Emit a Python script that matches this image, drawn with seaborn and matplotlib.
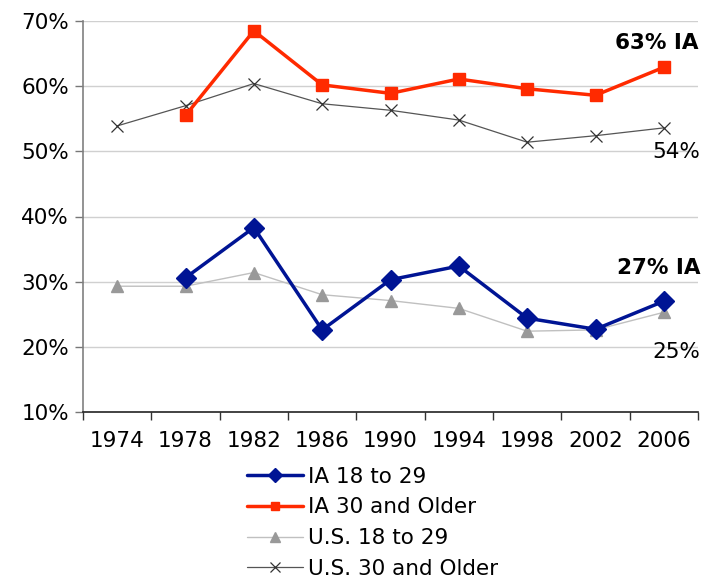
import numpy as np
import pandas as pd
import matplotlib
matplotlib.use("Agg")
import matplotlib.pyplot as plt
import seaborn as sns

years = ["1974", "1978", "1982", "1986", "1990", "1994", "1998", "2002", "2006"]
ia_18_29 = [np.nan, 30.6, 38.3, 22.6, 30.3, 32.4, 24.4, 22.7, 27.0]
ia_30_older = [np.nan, 55.5, 68.5, 60.2, 58.9, 61.1, 59.6, 58.6, 62.9]
us_18_29 = [29.3, 29.3, 31.4, 28.0, 27.1, 25.9, 22.4, 22.6, 25.3]
us_30_older = [53.9, 57.0, 60.4, 57.3, 56.3, 54.8, 51.4, 52.4, 53.6]
series_names = ["IA 18 to 29", "IA 30 and Older", "U.S. 18 to 29", "U.S. 30 and Older"]
yticks = [10, 20, 30, 40, 50, 60, 70]

sns.set_theme(style="white")
plt.rcParams['font.family'] = ['DejaVu Sans']
plt.rcParams['text.color'] = 'black'
plt.rcParams['xtick.color'] = 'black'
plt.rcParams['ytick.color'] = 'black'

pos = np.arange(len(years))
frames = []
for name, vals in zip(series_names, [ia_18_29, ia_30_older, us_18_29, us_30_older]):
    frames.append(pd.DataFrame({"pos": pos, "value": vals, "series": name}))
df = pd.concat(frames, ignore_index=True)

fig = plt.figure(figsize=(7.15, 5.78), dpi=100)
ax = fig.add_axes([83/715, 1 - 412/578, (698 - 83)/715, (412 - 21)/578])

for y in yticks[1:]:
    ax.axhline(y, color="#d0d0d0", lw=1.0, zorder=0)

styles = {
    "U.S. 30 and Older": dict(color="#555555", lw=0.9, marker="x", ms=9, mec="#333333", mfc="#333333", mew=0.9),
    "U.S. 18 to 29": dict(color="#c0c0c0", lw=1.0, marker="^", ms=9, mec="#999999", mfc="#999999"),
    "IA 30 and Older": dict(color="#ff2a00", lw=2.5, marker="s", ms=8, mec="#ff2a00", mfc="#ff2a00"),
    "IA 18 to 29": dict(color="#001494", lw=2.5, marker="D", ms=10, mec="#001494", mfc="#001494"),
}
handles = {}
for name in ["U.S. 30 and Older", "U.S. 18 to 29", "IA 30 and Older", "IA 18 to 29"]:
    st = styles[name]
    sub = df[df["series"] == name].dropna()
    sns.lineplot(data=sub, x="pos", y="value", ax=ax, color=st["color"], lw=st["lw"],
                 marker=st["marker"], markersize=st["ms"], markeredgecolor=st["mec"],
                 markerfacecolor=st["mfc"], markeredgewidth=st.get("mew", 1.0),
                 label=name, legend=False)
    handles[name] = ax.lines[-1]

ax.set_xlim(-0.5, len(years) - 0.5)
ax.set_ylim(10, 70)
ax.set_yticks(yticks)
ax.set_yticklabels([f"{v}%" for v in yticks], fontsize=15.5)
ax.set_xticks(pos)
ax.set_xticklabels(years, fontsize=15.5)
ax.set_xticks(np.arange(-0.5, len(years)), minor=True)
ax.tick_params(axis="x", which="major", length=0, pad=14, labelcolor="black")
ax.tick_params(axis="x", which="minor", length=6, width=1, color="#333333", direction="out", bottom=True)
ax.tick_params(axis="y", which="major", length=6, width=1, color="#777777", direction="out", left=True, pad=4,
               labelcolor="black")
ax.set_xlabel("")
ax.set_ylabel("")
for s in ["top", "right"]:
    ax.spines[s].set_visible(False)
ax.spines["left"].set_color("#808080")
ax.spines["left"].set_linewidth(1.2)
ax.spines["bottom"].set_color("#222222")
ax.spines["bottom"].set_linewidth(1.2)

ax.text(615/715, 1 - 43/578, "63% IA", transform=fig.transFigure, fontsize=15.5,
        fontweight="bold", va="center", ha="left", color="black")
ax.text(652/715, 1 - 152/578, "54%", transform=fig.transFigure, fontsize=15.5, va="center", ha="left",
        color="black")
ax.text(617/715, 1 - 268/578, "27% IA", transform=fig.transFigure, fontsize=15.5,
        fontweight="bold", va="center", ha="left", color="black")
ax.text(652/715, 1 - 352/578, "25%", transform=fig.transFigure, fontsize=15.5, va="center", ha="left",
        color="black")

leg = fig.legend([handles[n] for n in series_names], series_names, loc="upper left",
                 bbox_to_anchor=(238/715, 1 - 458/578), frameon=False, fontsize=15.5,
                 handlelength=2.6, handletextpad=0.25, labelspacing=0.5, borderaxespad=0,
                 markerscale=0.75)
for t in leg.get_texts():
    t.set_color("black")

fig.savefig("out.png", dpi=100)
